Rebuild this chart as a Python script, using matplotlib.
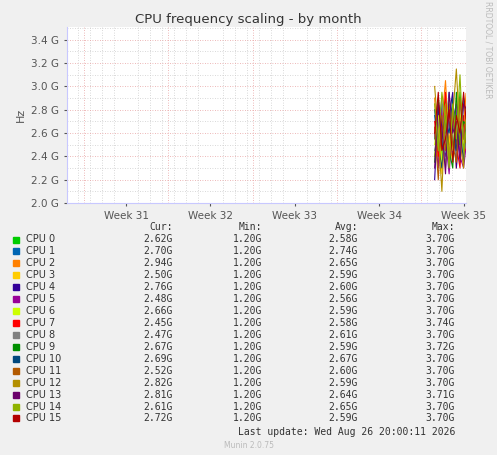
import matplotlib.pyplot as plt
from matplotlib.ticker import FixedLocator, MultipleLocator

cpu_names = [f"CPU {i}" for i in range(16)]
colors = ["#00CC00", "#0066B3", "#FF8000", "#FFCC00", "#330099", "#990099",
          "#CCFF00", "#FF0000", "#808080", "#008F00", "#00487D", "#B35A00",
          "#B38F00", "#6B006B", "#8FB300", "#B30000"]
cur = ["2.62G", "2.70G", "2.94G", "2.50G", "2.76G", "2.48G", "2.66G", "2.45G",
       "2.47G", "2.67G", "2.69G", "2.52G", "2.82G", "2.81G", "2.61G", "2.72G"]
mins = ["1.20G"] * 16
avg = ["2.58G", "2.74G", "2.65G", "2.59G", "2.60G", "2.56G", "2.59G", "2.58G",
       "2.61G", "2.59G", "2.67G", "2.60G", "2.59G", "2.64G", "2.65G", "2.59G"]
mx = ["3.70G", "3.70G", "3.70G", "3.70G", "3.70G", "3.70G", "3.70G", "3.74G",
      "3.70G", "3.72G", "3.70G", "3.70G", "3.70G", "3.71G", "3.70G", "3.70G"]

# time in days, week 31 = day 0
t = [25.6, 25.9, 26.2, 26.5, 26.8, 27.1, 27.4, 27.7, 28.0, 28.2]
series = [
    [2.55, 2.80, 2.40, 2.90, 2.30, 2.70, 2.50, 2.95, 2.60, 2.62],
    [2.75, 2.45, 2.85, 2.60, 2.95, 2.40, 2.80, 2.55, 2.90, 2.70],
    [2.90, 2.35, 2.70, 3.05, 2.50, 2.85, 2.30, 2.75, 2.65, 2.94],
    [2.40, 2.70, 2.25, 2.80, 2.55, 2.35, 2.90, 2.45, 2.60, 2.50],
    [2.20, 2.85, 2.50, 2.40, 2.75, 2.95, 2.30, 2.70, 2.55, 2.76],
    [2.60, 2.30, 2.80, 2.55, 2.25, 2.70, 2.85, 2.40, 2.30, 2.48],
    [2.50, 2.75, 2.35, 2.65, 2.90, 2.45, 2.60, 2.80, 2.40, 2.66],
    [2.70, 2.40, 2.60, 2.95, 2.35, 2.80, 2.50, 2.30, 2.75, 2.45],
    [2.45, 2.65, 2.90, 2.30, 2.70, 2.55, 2.40, 2.85, 2.60, 2.47],
    [2.35, 2.90, 2.55, 2.75, 2.45, 2.30, 2.95, 2.50, 2.70, 2.67],
    [2.80, 2.50, 2.30, 2.70, 2.60, 2.90, 2.45, 2.65, 2.35, 2.69],
    [2.65, 2.20, 2.75, 2.45, 2.85, 2.50, 2.35, 2.90, 2.55, 2.52],
    [3.00, 2.60, 2.10, 2.85, 2.40, 2.75, 3.15, 2.55, 2.30, 2.82],
    [2.30, 2.85, 2.65, 2.25, 2.95, 2.60, 2.70, 2.35, 2.85, 2.81],
    [2.85, 2.45, 2.95, 2.70, 2.30, 2.85, 2.55, 3.10, 2.45, 2.61],
    [2.60, 2.95, 2.45, 2.55, 2.80, 2.35, 2.75, 2.60, 2.95, 2.72],
]

week_pos = [0, 7, 14, 21, 28]
week_labels = ["Week 31", "Week 32", "Week 33", "Week 34", "Week 35"]
y_ticks = [2.0, 2.2, 2.4, 2.6, 2.8, 3.0, 3.2, 3.4]

bg = "#F0F0F0"
fig = plt.figure(figsize=(4.97, 4.55), dpi=100, facecolor=bg)
ax = fig.add_axes([67 / 497, (455 - 203) / 455, 399 / 497, 176 / 455])
ax.set_facecolor("white")
for s, c in zip(series, colors):
    ax.plot(t, s, color=c, lw=0.8)
ax.set_xlim(-4.9, 28.2)
ax.set_ylim(2.0, 3.51)

ax.xaxis.set_major_locator(FixedLocator(week_pos))
ax.set_xticks(week_pos)
ax.set_xticklabels(week_labels)
ax.xaxis.set_minor_locator(MultipleLocator(1))
ax.set_yticks(y_ticks)
ax.set_yticklabels([f"{v:.1f} G" for v in y_ticks])
ax.yaxis.set_minor_locator(MultipleLocator(0.1))
ax.grid(which="minor", color="#CCCCCC", ls=(0, (1, 2)), lw=0.6)
ax.grid(which="major", axis="y", color="#E8A0A0", ls=(0, (1, 2)), lw=0.6)
for wp in week_pos:
    ax.axvline(wp - 3.5, color="#E8A0A0", ls=(0, (1, 2)), lw=0.6, zorder=0)
ax.tick_params(labelsize=7.5, colors="#555555", length=2, which="both")
ax.tick_params(which="minor", length=0)
for sp in ["top", "right"]:
    ax.spines[sp].set_visible(False)
ax.spines["left"].set_color("#C8C8FF")
ax.spines["bottom"].set_color("#C8C8FF")
ax.set_ylabel("Hz", fontsize=8, color="#555555")

fig.text(0.5, 1 - 19 / 455, "CPU frequency scaling - by month", ha="center",
         va="center", fontsize=9.5, color="#333333")
fig.text(488 / 497, 1 - 50 / 455, "RRDTOOL / TOBI OETIKER", rotation=270,
         ha="center", va="center", fontsize=5.5, color="#BBBBBB")

def fy(py):
    return 1 - py / 455

fs = 7
tc = "#333333"
for x, h in [(173, "Cur:"), (262, "Min:"), (358, "Avg:"), (455, "Max:")]:
    fig.text(x / 497, fy(227), h, ha="right", va="center", fontsize=fs,
             color=tc, family="DejaVu Sans Mono")
for i, name in enumerate(cpu_names):
    y = fy(239.5 + i * 11.93)
    fig.patches.append(plt.Rectangle((13 / 497, y - 3 / 455), 6 / 497, 6 / 455,
                                     transform=fig.transFigure, color=colors[i]))
    fig.text(26 / 497, y, name, ha="left", va="center", fontsize=fs, color=tc)
    for x, v in [(173, cur[i]), (262, mins[i]), (358, avg[i]), (455, mx[i])]:
        fig.text(x / 497, y, v, ha="right", va="center", fontsize=fs,
                 color=tc, family="DejaVu Sans Mono")
fig.text(455 / 497, fy(432), "Last update: Wed Aug 26 20:00:11 2026",
         ha="right", va="center", fontsize=fs, color=tc, family="DejaVu Sans Mono")
fig.text(0.5, fy(446), "Munin 2.0.75", ha="center", va="center",
         fontsize=5.5, color="#BBBBBB")

fig.savefig("out.png", dpi=100, facecolor=bg)
